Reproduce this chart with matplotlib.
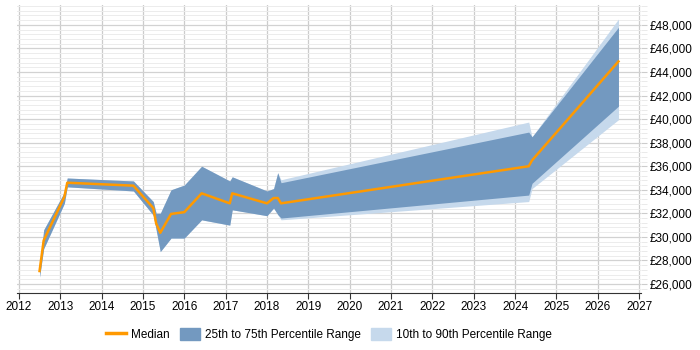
import numpy as np
import matplotlib
matplotlib.use("Agg")
import matplotlib.pyplot as plt
from matplotlib.ticker import MultipleLocator, FuncFormatter
from matplotlib.patches import Patch
from matplotlib.lines import Line2D

plt.rcParams['font.family'] = ['Liberation Sans', 'DejaVu Sans']

# dates as decimal years
years = [2012.5, 2012.6, 2013.1, 2013.17, 2014.77, 2015.25, 2015.32, 2015.42,
         2015.68, 2016.0, 2016.42, 2017.1, 2017.16, 2018.0, 2018.16, 2018.26,
         2018.34, 2024.33, 2024.41, 2026.5]
median = [27100, 29700, 33400, 34600, 34350, 32450, 31150, 30350,
          31950, 32100, 33700, 32850, 33700, 32850, 33300, 33300,
          32850, 36000, 36500, 44900]
p75 = [27300, 30600, 33800, 35000, 34750, 33000, 32000, 32000,
       34000, 34400, 36000, 34750, 35100, 33900, 34100, 35450,
       34600, 38900, 38500, 47800]
p25 = [26600, 29000, 32850, 34250, 33900, 31850, 30600, 28750,
       29900, 29900, 31450, 31000, 32300, 31800, 32450, 31900,
       31600, 33550, 34550, 41100]
p90 = [27300, 30600, 33800, 35000, 34750, 33000, 32000, 32000,
       34000, 34400, 36000, 34750, 35100, 33900, 34100, 35450,
       34850, 39750, 38500, 48500]
p10 = [26600, 29000, 32850, 34250, 33900, 31850, 30600, 28750,
       29900, 29900, 31450, 31000, 32300, 31800, 32450, 31900,
       31450, 33000, 34100, 39950]

fig = plt.figure(figsize=(7, 3.5), dpi=100)
ax = fig.add_axes([0.024, 0.163, 0.892, 0.823])

c_light = '#c6d9ec'
c_dark = '#7399c0'
c_med = '#ff9900'

ax.fill_between(years, p10, p90, color=c_light, lw=0, zorder=2)
ax.fill_between(years, p25, p75, color=c_dark, lw=0, zorder=3)
ax.plot(years, median, color=c_med, lw=1.8, zorder=4)

ax.set_xlim(2011.95, 2027.05)
ax.set_ylim(25240, 49700)

ax.xaxis.set_major_locator(MultipleLocator(1))
ax.yaxis.set_major_locator(MultipleLocator(2000))
ax.yaxis.set_minor_locator(MultipleLocator(400))
ax.yaxis.set_major_formatter(FuncFormatter(lambda v, p: '£{:,.0f}'.format(v)))
ax.yaxis.tick_right()
ax.tick_params(axis='y', which='major', length=4, color='#cccccc', labelsize=8.5, pad=2)
ax.tick_params(axis='y', which='minor', length=4, color='#e6e6e6')
ax.tick_params(axis='x', length=4, color='#333333', labelsize=8.5, pad=2)

ax.grid(axis='x', which='major', color='#cccccc', lw=0.9, zorder=1)
ax.grid(axis='y', which='major', color='#d2d2d2', lw=0.9, zorder=1)
ax.grid(axis='y', which='minor', color='#ececec', lw=0.7, zorder=1)
ax.set_axisbelow(True)

for s in ['top', 'right', 'left']:
    ax.spines[s].set_visible(False)
ax.spines['bottom'].set_color('#333333')

handles = [Line2D([0], [0], color=c_med, lw=2.5),
           Patch(color=c_dark), Patch(color=c_light)]
labels = ['Median', '25th to 75th Percentile Range', '10th to 90th Percentile Range']
ax.legend(handles, labels, loc='center', bbox_to_anchor=(0.5, -0.145), ncol=3,
          frameon=False, fontsize=8.5, handlelength=1.7, handleheight=1.1,
          handletextpad=0.45, columnspacing=0.85)

fig.savefig('out.png', dpi=100)
